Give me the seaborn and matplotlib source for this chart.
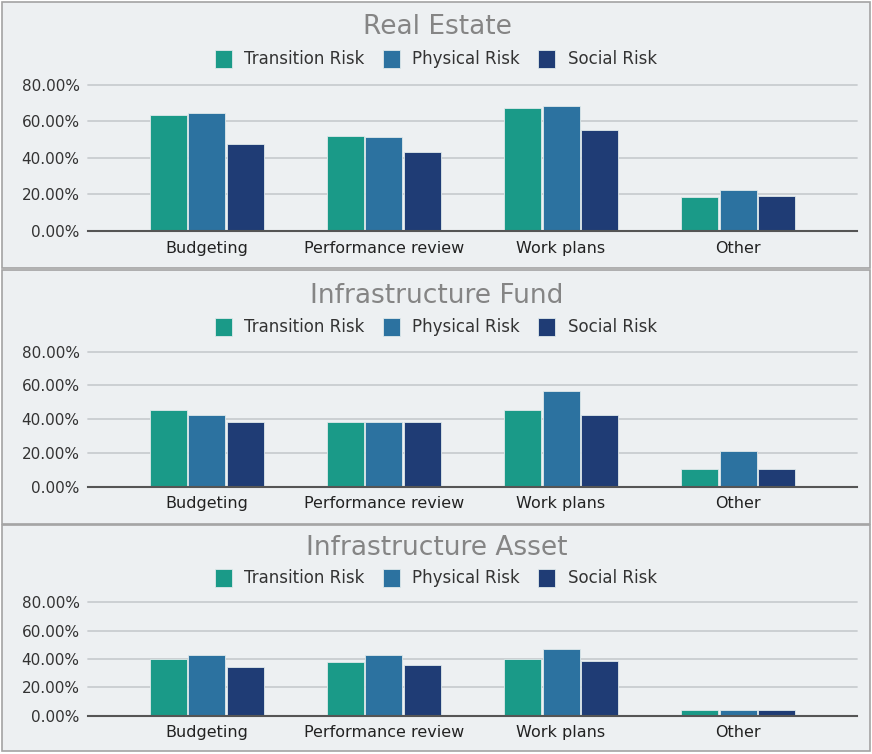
import numpy as np
import pandas as pd
import seaborn as sns
import matplotlib.pyplot as plt
from matplotlib.patches import Rectangle, Patch

categories = ["Budgeting", "Performance review", "Work plans", "Other"]
series = ["Transition Risk", "Physical Risk", "Social Risk"]
titles = ["Real Estate", "Infrastructure Fund", "Infrastructure Asset"]

re_transition = [63.4, 52.3, 67.2, 18.4]
re_physical = [64.8, 51.7, 68.5, 22.2]
re_social = [47.9, 43.5, 55.4, 19.3]

if_transition = [45.6, 38.5, 45.6, 10.5]
if_physical = [42.5, 38.5, 56.9, 20.9]
if_social = [38.5, 38.5, 42.5, 10.5]

ia_transition = [40.2, 37.6, 40.2, 4.0]
ia_physical = [43.1, 43.1, 47.1, 4.0]
ia_social = [34.6, 35.5, 38.6, 4.0]

yticks = [0, 20, 40, 60, 80]
colors = ["#1a9a88", "#2c72a0", "#1f3c75"]

panel_data = [
    (re_transition, re_physical, re_social),
    (if_transition, if_physical, if_social),
    (ia_transition, ia_physical, ia_social),
]

W, H = 872, 754
sns.set_theme(style="white")
plt.rcParams['font.family'] = ['DejaVu Sans']
fig = plt.figure(figsize=(W / 100, H / 100), dpi=100)
fig.patch.set_facecolor("white")

# panel geometry in pixels: (panel_top, panel_bottom, y80, y0, title_y, legend_y)
panels = [
    (2, 268, 85, 231, 27, 59),
    (270, 524, 351.7, 486.7, 296, 327),
    (525, 751, 602.3, 715.7, 548, 578),
]
left_px, right_px = 88, 857

for (ptop, pbot, y80, y0, ty, ly), title, vals in zip(panels, titles, panel_data):
    fig.add_artist(Rectangle((2 / W, 1 - pbot / H), 868 / W, (pbot - ptop) / H,
                             transform=fig.transFigure, facecolor="#edf0f2",
                             edgecolor="#a3a3a3", lw=1.2, zorder=0))
    ax = fig.add_axes([left_px / W, 1 - y0 / H, (right_px - left_px) / W, (y0 - y80) / H])
    ax.set_facecolor("none")
    df = pd.DataFrame({
        "category": categories * 3,
        "series": [s for s in series for _ in categories],
        "value": list(vals[0]) + list(vals[1]) + list(vals[2]),
    })
    sns.barplot(data=df, x="category", y="value", hue="series", order=categories,
                hue_order=series, palette=colors, saturation=1, width=0.66, gap=0.05,
                edgecolor="#dfe9ea", linewidth=0.6, ax=ax, legend=False, zorder=3)
    ax.set_xlim(-0.672, 3.672)
    ax.set_ylim(0, 80)
    ax.set_yticks(yticks)
    ax.set_yticklabels([f"{v:.2f}%" for v in yticks], fontsize=11, color="#333333")
    ax.tick_params(axis="y", length=0, pad=6)
    ax.tick_params(axis="x", length=0, pad=7, labelsize=11.5, labelcolor="#222222")
    ax.set_xlabel("")
    ax.set_ylabel("")
    ax.yaxis.grid(True, color="#c9cdd0", lw=1.3, zorder=0)
    for gl in ax.get_ygridlines():
        gl.set_clip_on(False)
    for s in ["top", "left", "right"]:
        ax.spines[s].set_visible(False)
    ax.spines["bottom"].set_color("#555555")
    ax.spines["bottom"].set_linewidth(1.5)
    ax.spines["bottom"].set_zorder(5)

    fig.text(437 / W, 1 - ty / H, title, ha="center", va="center",
             fontsize=19, color="#858585")
    handles = [Patch(facecolor=c, edgecolor="#dfe9ea", lw=0.6) for c in colors]
    fig.legend(handles, series, loc="center", bbox_to_anchor=(436 / W, 1 - ly / H),
               ncol=3, frameon=False, fontsize=12, handlelength=1.0, handleheight=1.3,
               handletextpad=0.75, columnspacing=1.1, labelcolor="#333333")

fig.savefig("out.png", dpi=100, facecolor="white")
